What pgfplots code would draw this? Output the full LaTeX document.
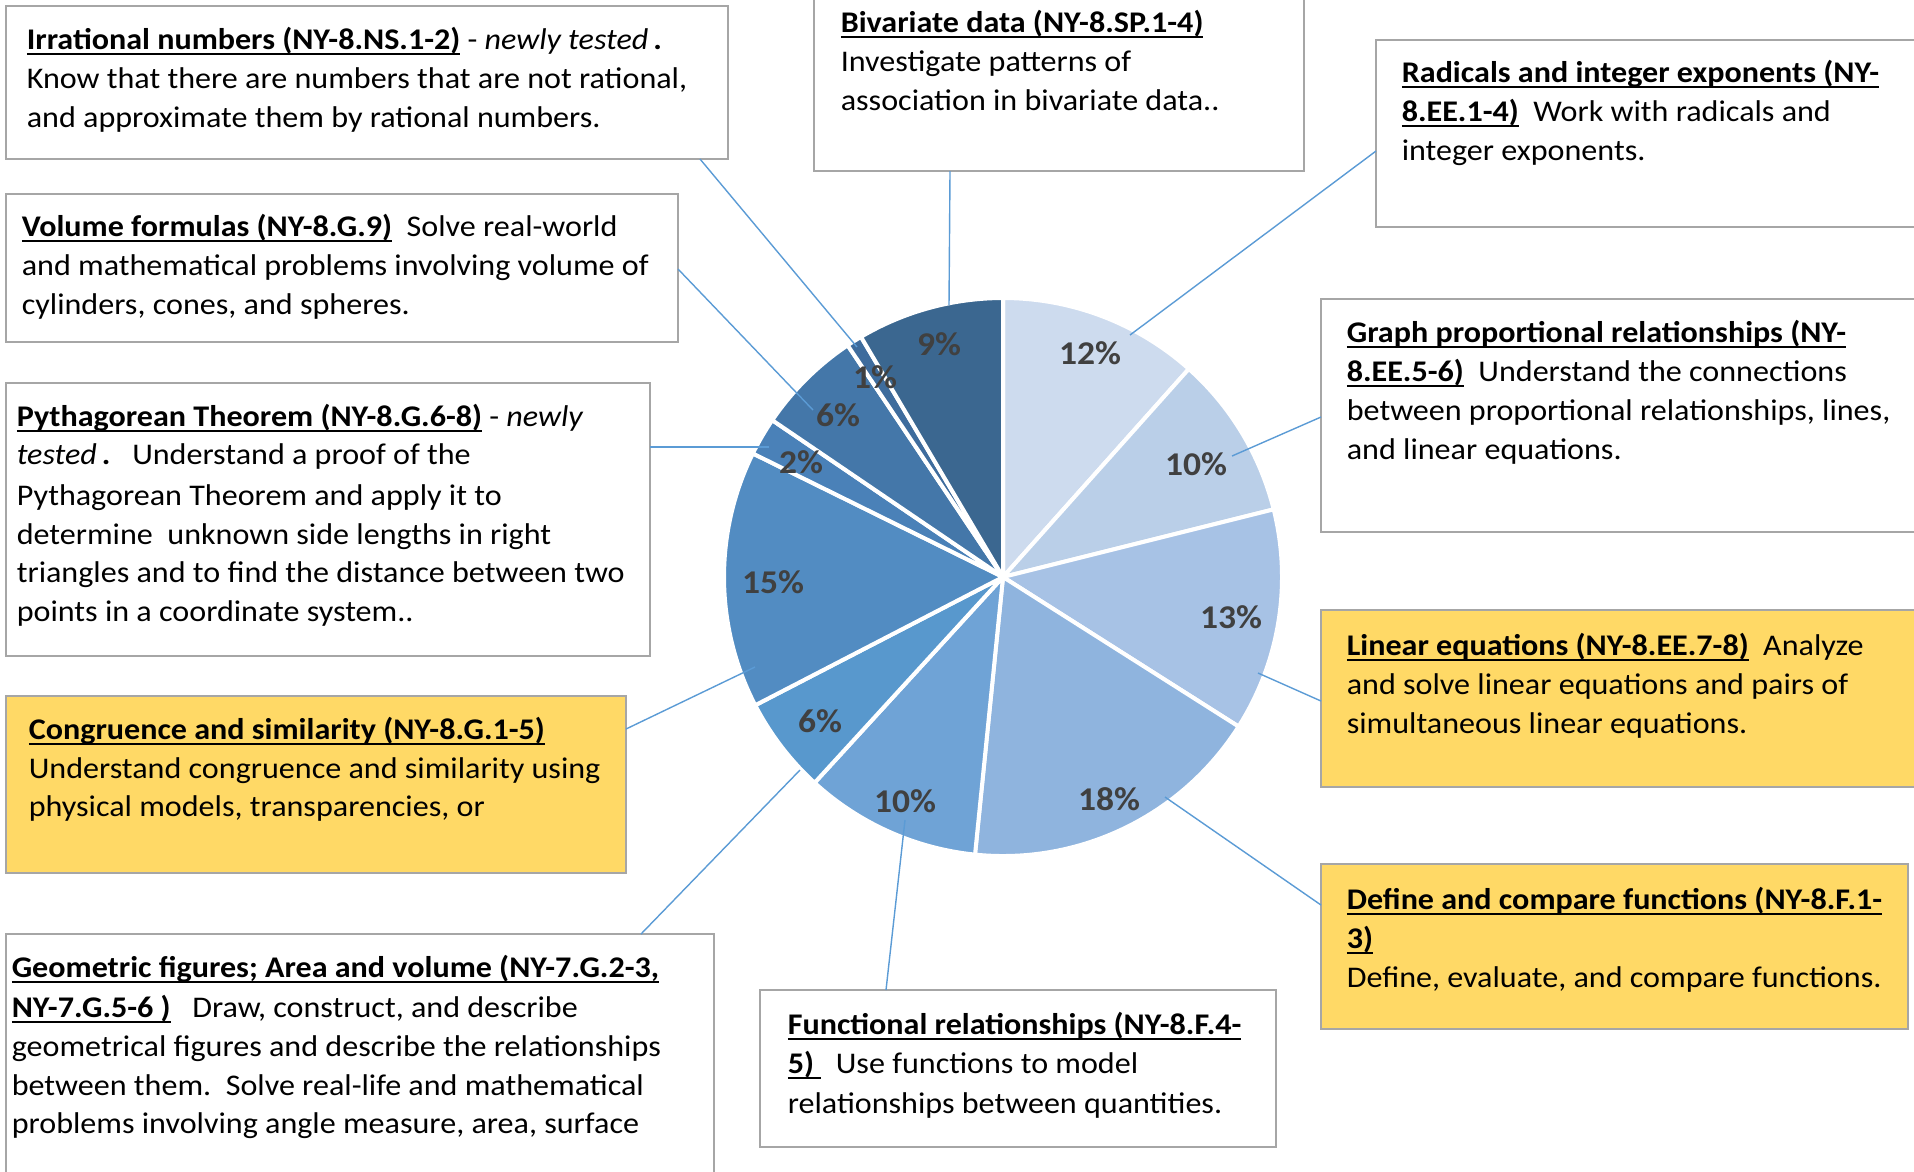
\documentclass[border=0pt]{standalone}
\usepackage{pgfplots}
\pgfplotsset{compat=1.18}
\usepackage{pgfplotstable}
\usepackage{fontspec}
\setmainfont{Carlito}[FakeStretch=1.07]

\definecolor{s0}{HTML}{CDDBEE}
\definecolor{s1}{HTML}{BACFE8}
\definecolor{s2}{HTML}{A7C2E5}
\definecolor{s3}{HTML}{8FB4DE}
\definecolor{s4}{HTML}{6FA3D6}
\definecolor{s5}{HTML}{5898CD}
\definecolor{s6}{HTML}{528CC2}
\definecolor{s7}{HTML}{4A81B8}
\definecolor{s8}{HTML}{4477A9}
\definecolor{s9}{HTML}{3E6C9D}
\definecolor{s10}{HTML}{3B6790}
\definecolor{boxgray}{HTML}{A6A6A6}
\definecolor{gold}{HTML}{FFD966}
\definecolor{leader}{HTML}{5B9BD5}
\definecolor{lblgray}{HTML}{404040}

% slice share (percent, read from the angles), shown label, label position (px)
\pgfplotstableread{
pct  lab lx   ly
11.6 12  1090 353
9.5  10  1196 464
12.9 13  1231 617
17.6 18  1109 799
10.2 10  905  801
5.6  6   820  721
14.9 15  773  582
2.2  2   801  462
6.1  6   838  415
0.9  1   875  377
8.5  9   939  344
}\piedata

\newcommand{\tfont}{\fontsize{7.5}{9.75}\selectfont}
\newsavebox\ulbox
\newcommand{\ul}[1]{\sbox\ulbox{\textbf{#1}}\rlap{\rule[-1.5pt]{\wd\ulbox}{0.55pt}}\usebox\ulbox}
\newcommand{\tl}[3]{\node[anchor=base west, inner sep=0pt, font=\tfont] at (axis cs:#1,#2) {#3};}
\newcommand{\bx}[5]{\filldraw[fill=#5, draw=boxgray, line width=0.6pt] (axis cs:#1,#2) rectangle (axis cs:#3,#4);}
\newcommand{\ld}[4]{\draw[leader, line width=0.35pt] (axis cs:#1,#2) -- (axis cs:#3,#4);}

\begin{document}%
% start and end angle of every slice, clockwise from 12 o'clock
\def\cum{0}%
\pgfplotsforeachungrouped \i in {0,...,10}{%
  \pgfplotstablegetelem{\i}{pct}\of\piedata%
  \pgfmathsetmacro\aS{90-3.6*\cum}%
  \pgfmathsetmacro\cum{\cum+\pgfplotsretval}%
  \pgfmathsetmacro\aE{90-3.6*\cum}%
  \expandafter\xdef\csname paS\i\endcsname{\aS}%
  \expandafter\xdef\csname paE\i\endcsname{\aE}%
}%
\begin{tikzpicture}
\begin{axis}[
    x=0.25pt, y=0.25pt,
    xmin=0, xmax=1914, ymin=0, ymax=1171,
    y dir=reverse,
    hide axis,
    clip=false
]
\coordinate (TL) at (axis cs:0,0);
\coordinate (BR) at (axis cs:1914,1171);
% boxes
\bx{6}{6}{728}{159}{white}
\bx{814}{-10}{1304}{171}{white}
\bx{1376}{40}{1930}{227}{white}
\bx{6}{194}{678}{342}{white}
\bx{6}{383}{650}{656}{white}
\bx{6}{696}{626}{873}{gold}
\bx{6}{934}{714}{1190}{white}
\bx{1321}{299}{1930}{532}{white}
\bx{1321}{610}{1930}{787}{gold}
\bx{1321}{864}{1908}{1029}{gold}
\bx{760}{990}{1276}{1147}{white}

% pie
\pgfplotsinvokeforeach{0,...,10}{
  \filldraw[fill=s#1, draw=white, line width=1pt, line join=round]
    (axis cs:1003,577) -- ++(\csname paS#1\endcsname:69.75pt)
    arc[start angle=\csname paS#1\endcsname, end angle=\csname paE#1\endcsname, radius=69.75pt] -- cycle;
}

% leader lines
\ld{950}{171}{949}{305}
\ld{1376}{151}{1130}{335}
\ld{1321}{417}{1232}{456}
\ld{1321}{701}{1258}{673}
\ld{1321}{905}{1165}{797}
\ld{886}{990}{905}{820}
\ld{641}{934}{800}{770}
\ld{626}{729}{755}{667}
\ld{650}{447}{769}{447}
\ld{678}{269}{813}{410}
\ld{700}{159}{857}{347}

% percentage labels
\addplot[draw=none, mark=none,
    nodes near coords={\pgfplotspointmeta\%},
    point meta=explicit symbolic,
    nodes near coords align=center,
    every node near coord/.style={anchor=center, inner sep=0pt,
        font=\fontsize{8.3}{10}\selectfont\bfseries, text=lblgray}]
    table[x=lx, y=ly, meta=lab] {\piedata};

% box texts
\tl{26}{49}{\ul{Irrational numbers (NY-8.NS.1-2)} - \textit{newly tested}\,\textbf{.}}
\tl{26}{88}{Know that there are numbers that are not rational,}
\tl{26}{127}{and approximate them by rational numbers.}

\tl{840}{32}{\ul{Bivariate data (NY-8.SP.1-4)}}
\tl{840}{71}{Investigate patterns of}
\tl{840}{110}{association in bivariate data..}

\tl{1401}{82}{\ul{Radicals and integer exponents (NY-}}
\tl{1401}{121}{\ul{8.EE.1-4)}\ \ Work with radicals and}
\tl{1401}{160}{integer exponents.}

\tl{21}{236}{\ul{Volume formulas (NY-8.G.9)}\ \ Solve real-world}
\tl{21}{275}{and mathematical problems involving volume of}
\tl{21}{314}{cylinders, cones, and spheres.}

\tl{16}{426}{\ul{Pythagorean Theorem (NY-8.G.6-8)} - \textit{newly}}
\tl{16}{464}{\textit{tested}\,\textbf{.}\ \ \ Understand a proof of the}
\tl{16}{505}{Pythagorean Theorem and apply it to}
\tl{16}{544}{determine\ \ unknown side lengths in right}
\tl{16}{582}{triangles and to find the distance between two}
\tl{16}{621}{points in a coordinate system..}

\tl{28}{739}{\ul{Congruence and similarity\ (NY-8.G.1-5)}}
\tl{28}{778}{Understand congruence and similarity using}
\tl{28}{816}{physical models, transparencies, or}

\tl{11}{977}{\ul{Geometric figures; Area and volume (NY-7.G.2-3,}}
\tl{11}{1017}{\ul{NY-7.G.5-6 )}\ \ \ Draw, construct, and describe}
\tl{11}{1056}{geometrical figures and describe the relationships}
\tl{11}{1095}{between them.\ \ Solve real-life and mathematical}
\tl{11}{1133}{problems involving angle measure, area, surface}

\tl{1346}{342}{\ul{Graph proportional relationships (NY-}}
\tl{1346}{381}{\ul{8.EE.5-6)}\ \ Understand the connections}
\tl{1346}{420}{between proportional relationships, lines,}
\tl{1346}{459}{and linear equations.}

\tl{1346}{655}{\ul{Linear equations (NY-8.EE.7-8)}\ \ Analyze}
\tl{1346}{694}{and solve linear equations and pairs of}
\tl{1346}{733}{simultaneous linear equations.}

\tl{1346}{909}{\ul{Define and compare functions (NY-8.F.1-}}
\tl{1346}{948}{\ul{3)}}
\tl{1346}{987}{Define, evaluate, and compare functions.}

\tl{787}{1034}{\ul{Functional relationships (NY-8.F.4-}}
\tl{787}{1073}{\ul{5)\ }\ \ Use functions to model}
\tl{787}{1113}{relationships between quantities.}
\end{axis}
\pgfresetboundingbox
\path (TL) rectangle (BR);
\end{tikzpicture}%
\end{document}
